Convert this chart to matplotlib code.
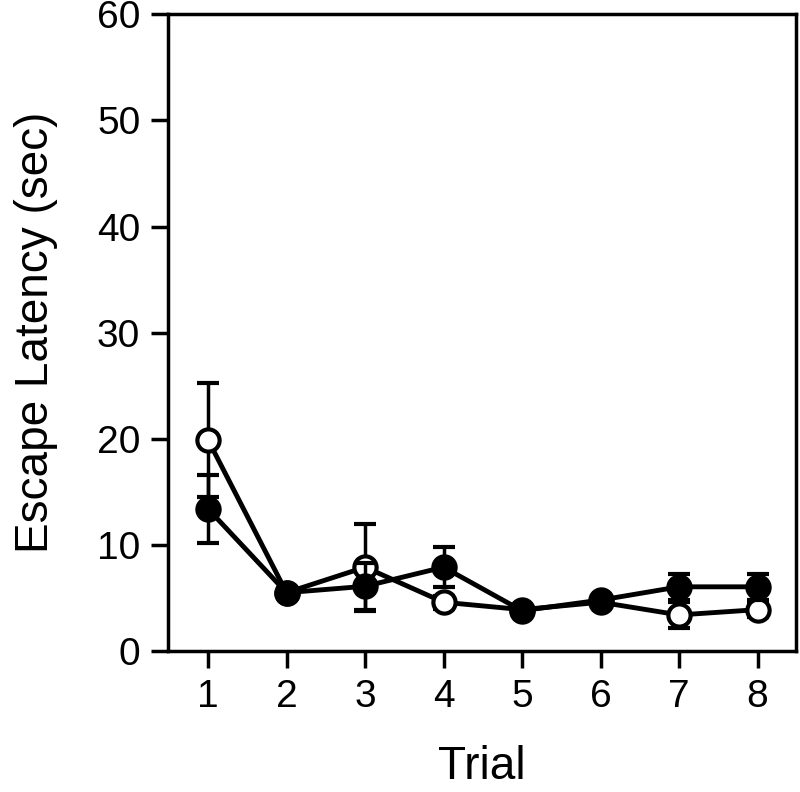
import matplotlib.pyplot as plt

plt.rcParams['font.family'] = ['Liberation Sans', 'DejaVu Sans']

# data
trials = [1, 2, 3, 4, 5, 6, 7, 8]
open_mean = [19.9, 5.5, 7.9, 4.6, 3.9, 4.6, 3.4, 3.9]
open_err = [5.4, 0.4, 4.1, 0.6, 0.4, 0.4, 1.2, 0.7]
filled_mean = [13.4, 5.5, 6.1, 7.9, 3.8, 4.8, 6.05, 6.05]
filled_err = [3.2, 0.4, 2.2, 1.9, 0.4, 0.4, 1.2, 1.2]

fig = plt.figure(figsize=(8, 7.92), dpi=100)
ax = fig.add_axes([0.21, 0.178, 0.785, 0.804])

ax.errorbar(trials, open_mean, yerr=open_err, color="black", lw=3.5,
            marker="o", ms=16, mfc="white", mec="black", mew=3,
            capsize=8, capthick=3, elinewidth=2.5, zorder=2)
ax.errorbar(trials, filled_mean, yerr=filled_err, color="black", lw=3.5,
            marker="o", ms=16, mfc="black", mec="black", mew=3,
            capsize=8, capthick=3, elinewidth=2.5, zorder=3)

ax.set_xlim(0.49, 8.49)
ax.set_ylim(0, 60)
ax.set_xticks(trials)
ax.set_yticks([0, 10, 20, 30, 40, 50, 60])
ax.tick_params(direction="out", length=12, width=2.5, labelsize=28, pad=8)
for s in ax.spines.values():
    s.set_linewidth(2.5)

ax.set_xlabel("Trial", fontsize=33, labelpad=22)
ax.set_ylabel("Escape Latency (sec)", fontsize=33, labelpad=28)

fig.savefig("out.png", dpi=100)
